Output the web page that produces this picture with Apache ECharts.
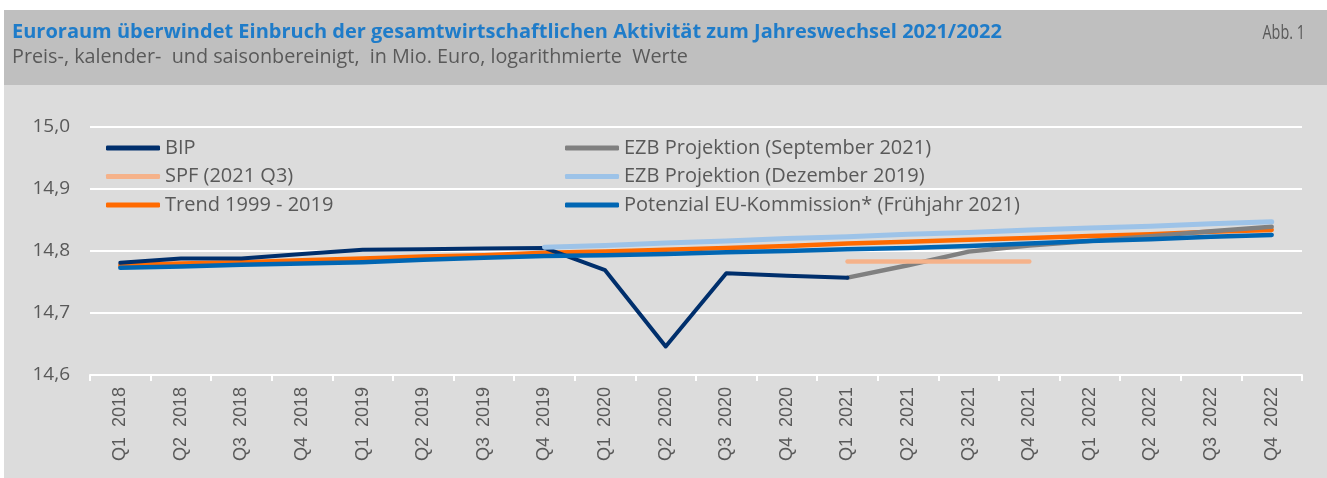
<!DOCTYPE html>
<html>
<head>
<meta charset="utf-8">
<script src="https://cdn.jsdelivr.net/npm/echarts@6/dist/echarts.min.js"></script>
<style>
  html, body { margin: 0; padding: 0; background: #ffffff; }
  #chart { width: 1327px; height: 478px; }
</style>
</head>
<body>
<div id="chart"></div>
<script>
const categories = ['Q1 2018','Q2 2018','Q3 2018','Q4 2018','Q1 2019','Q2 2019','Q3 2019','Q4 2019',
  'Q1 2020','Q2 2020','Q3 2020','Q4 2020','Q1 2021','Q2 2021','Q3 2021','Q4 2021',
  'Q1 2022','Q2 2022','Q3 2022','Q4 2022'];

const bip = [14.781, 14.788, 14.788, 14.795, 14.802, 14.803, 14.804, 14.805,
  14.769, 14.646, 14.764, 14.760, 14.757, null, null, null, null, null, null, null];

const ezbSep2021 = [null, null, null, null, null, null, null, null, null, null, null, null,
  14.757, 14.777, 14.799, 14.809, 14.816, 14.824, 14.832, 14.839];

const spf2021Q3 = [null, null, null, null, null, null, null, null, null, null, null, null,
  14.783, 14.783, 14.783, 14.783, null, null, null, null];

const ezbDez2019 = [null, null, null, null, null, null, null, 14.806,
  14.809, 14.813, 14.816, 14.820, 14.823, 14.827, 14.830, 14.834, 14.837, 14.840, 14.844, 14.847];

const trend = [14.777, 14.780, 14.782, 14.785, 14.788, 14.791, 14.793, 14.797,
  14.799, 14.802, 14.805, 14.808, 14.812, 14.815, 14.818, 14.821, 14.824, 14.827, 14.831, 14.834];

const potenzial = [14.773, 14.775, 14.778, 14.780, 14.782, 14.786, 14.789, 14.792,
  14.793, 14.795, 14.798, 14.800, 14.803, 14.805, 14.808, 14.812, 14.816, 14.819, 14.823, 14.826];

const yTicks = { min: 14.6, max: 15.0, interval: 0.1 };

const names = {
  bip: 'BIP',
  sep: 'EZB Projektion (September 2021)',
  spf: 'SPF (2021 Q3)',
  dez: 'EZB Projektion (Dezember 2019)',
  trend: 'Trend 1999 - 2019',
  pot: 'Potenzial EU-Kommission* (Frühjahr 2021)'
};

const FONT = '"Open Sans", "Noto Sans", sans-serif';
const GREY_TEXT = '#595959';

function line(name, data, color, width) {
  return {
    name: name, type: 'line', data: data, symbol: 'none', showSymbol: false,
    connectNulls: false, animation: false,
    lineStyle: { color: color, width: width, cap: 'round', join: 'round' },
    itemStyle: { color: color },
    emphasis: { disabled: true }
  };
}

const chart = echarts.init(document.getElementById('chart'), null, { renderer: 'canvas' });

const legendCommon = {
  orient: 'vertical', top: 137, padding: 0, itemWidth: 54, itemHeight: 5, itemGap: 6.5,
  icon: 'roundRect', selectedMode: false,
  textStyle: { color: GREY_TEXT, fontSize: 20, fontFamily: FONT, lineHeight: 22, padding: [0, 0, 0, 0] }
};

chart.setOption({
  backgroundColor: '#ffffff',
  animation: false,
  graphic: [
    { type: 'rect', left: 4, top: 10, shape: { width: 1323, height: 75 }, style: { fill: '#bfbfbf' }, z: -10 },
    { type: 'rect', left: 4, top: 85, shape: { width: 1323, height: 393 }, style: { fill: '#dcdcdc' }, z: -10 },
    { type: 'text', x: 1305, y: 33, scaleX: 0.72, z: 10,
      style: { text: 'Abb. 1', fill: GREY_TEXT, font: '20px "Open Sans", sans-serif',
        textAlign: 'right', textVerticalAlign: 'middle' } }
  ],
  title: [
    { text: 'Euroraum überwindet Einbruch der gesamtwirtschaftlichen Aktivität zum Jahreswechsel 2021/2022',
      left: 8, top: 22, padding: [0, 4],
      textStyle: { color: '#1f7cc9', fontSize: 20, fontWeight: 'bold', fontFamily: FONT } },
    { text: 'Preis-, kalender-  und saisonbereinigt,  in Mio. Euro, logarithmierte  Werte',
      left: 8, top: 47, padding: [0, 4],
      textStyle: { color: GREY_TEXT, fontSize: 19.8, fontWeight: 'normal', fontFamily: FONT } }
  ],
  legend: [
    Object.assign({}, legendCommon, { left: 106, data: [names.bip, names.spf, names.trend] }),
    Object.assign({}, legendCommon, { left: 565, data: [names.sep, names.dez, names.pot] })
  ],
  grid: { left: 90, right: 25, top: 127, bottom: 103, containLabel: false },
  xAxis: {
    type: 'category', data: categories, boundaryGap: true,
    axisLine: { show: true, lineStyle: { color: '#ffffff', width: 2 } },
    axisTick: { show: true, length: 6, lineStyle: { color: '#ffffff', width: 2 } },
    axisLabel: { rotate: 90, margin: 12, color: GREY_TEXT, fontSize: 18,
      fontFamily: '"Liberation Sans", Arial, sans-serif', interval: 0,
      formatter: v => v.replace(' ', '  ') }
  },
  yAxis: {
    type: 'value', min: yTicks.min, max: yTicks.max, interval: yTicks.interval,
    axisLine: { show: false }, axisTick: { show: false },
    splitLine: { show: true, lineStyle: { color: '#ffffff', width: 2 } },
    axisLabel: { margin: 20, color: GREY_TEXT, fontSize: 19, fontFamily: FONT,
      formatter: v => v.toFixed(1).replace('.', ',') }
  },
  series: [
    line(names.trend, trend, '#ff6a00', 4.5),
    line(names.sep, ezbSep2021, '#808080', 4.5),
    line(names.bip, bip, '#002f6c', 4),
    line(names.pot, potenzial, '#0066b3', 4.5),
    line(names.dez, ezbDez2019, '#9dc3e8', 5),
    line(names.spf, spf2021Q3, '#f5b28a', 4.5)
  ]
});
</script>
</body>
</html>
